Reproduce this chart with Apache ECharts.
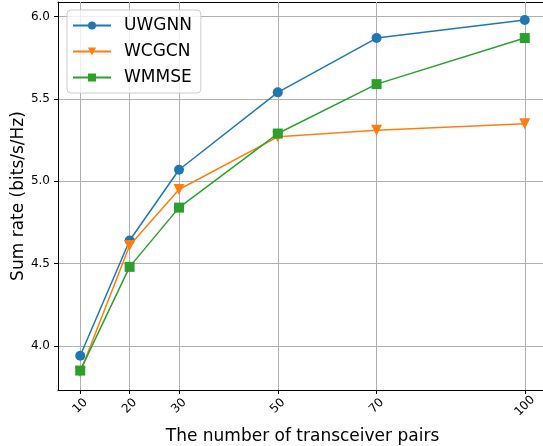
<!DOCTYPE html>
<html>
<head>
<meta charset="utf-8">
<script src="https://cdn.jsdelivr.net/npm/echarts@6/dist/echarts.min.js"></script>
<style>
  html, body { margin: 0; padding: 0; background: #fff; }
  #chart { width: 543px; height: 446px; }
</style>
</head>
<body>
<div id="chart"></div>
<script>
// Number of transceiver pairs on the x axis
const pairs = [10, 20, 30, 50, 70, 100];
// Sum rate (bits/s/Hz) of each method
const uwgnn = [3.94, 4.64, 5.07, 5.54, 5.87, 5.98];
const wcgcn = [3.84, 4.61, 4.95, 5.27, 5.31, 5.35];
const wmmse = [3.85, 4.48, 4.84, 5.29, 5.59, 5.87];
// Tick positions
const xTicks = [10, 20, 30, 50, 70, 100];
const yTicks = [4.0, 4.5, 5.0, 5.5, 6.0];

const FONT = 'DejaVu Sans';
const X_MIN = 5.5, X_MAX = 104.5;
const GRID_COLOR = '#b0b0b0';
const zip = (xs, ys) => xs.map((x, i) => [x, ys[i]]);

function lineSeries(name, values, color, symbol, size, rotate) {
  return {
    name: name,
    type: 'line',
    z: 3,
    data: zip(pairs, values),
    symbol: symbol,
    symbolSize: size,
    symbolRotate: rotate || 0,
    showSymbol: true,
    lineStyle: { color: color, width: 1.5 },
    itemStyle: { color: color, borderWidth: 0 },
    emphasis: { disabled: true },
    animation: false
  };
}

// vertical grid lines at the x ticks, kept beneath the data lines
const xGridSeries = {
  name: 'xgrid',
  type: 'line',
  z: 1,
  data: [],
  silent: true,
  markLine: {
    silent: true,
    z: 1,
    symbol: ['none', 'none'],
    label: { show: false },
    emphasis: { disabled: true },
    animation: false,
    lineStyle: { color: GRID_COLOR, width: 1, type: 'solid' },
    data: xTicks.map(v => ({ xAxis: v }))
  }
};

const chart = echarts.init(document.getElementById('chart'), null, { renderer: 'canvas' });
chart.setOption({
  backgroundColor: '#ffffff',
  animation: false,
  grid: {
    left: 58, top: 2, width: 489, height: 388,
    show: false, containLabel: false, outerBoundsMode: 'none'
  },
  legend: {
    left: 67, top: 10,
    orient: 'vertical',
    itemWidth: 38, itemHeight: 10,
    itemGap: 9,
    padding: [7, 9, 7, 5],
    backgroundColor: 'rgba(255,255,255,0.8)',
    borderColor: '#cccccc', borderWidth: 1, borderRadius: 4,
    textStyle: { fontFamily: FONT, fontSize: 17, color: '#000', padding: [0, 0, 0, 8] },
    data: ['UWGNN', 'WCGCN', 'WMMSE']
  },
  xAxis: [{
    type: 'value',
    min: X_MIN, max: X_MAX,
    name: 'The number of transceiver pairs',
    nameLocation: 'middle',
    nameGap: 38,
    nameTextStyle: { fontFamily: FONT, fontSize: 17, color: '#000' },
    axisLine: { onZero: false, lineStyle: { color: '#000', width: 1 } },
    axisTick: { show: true, length: 4, customValues: xTicks, lineStyle: { color: '#000' } },
    axisLabel: {
      customValues: xTicks, rotate: 45, fontFamily: FONT, fontSize: 12, color: '#000',
      align: 'center', verticalAlign: 'middle', margin: 16
    },
    splitLine: { show: false }
  }, {
    // top frame line
    type: 'value',
    position: 'top',
    min: X_MIN, max: X_MAX,
    axisLine: { show: true, onZero: false, lineStyle: { color: '#000', width: 1 } },
    axisTick: { show: false },
    axisLabel: { show: false },
    splitLine: { show: false }
  }],
  yAxis: {
    type: 'value',
    min: 3.732, max: 6.089,
    name: 'Sum rate (bits/s/Hz)',
    nameLocation: 'middle',
    nameGap: 31,
    nameMoveOverlap: false,
    nameTextStyle: { fontFamily: FONT, fontSize: 17, color: '#000' },
    axisLine: { show: true, onZero: false, lineStyle: { color: '#000', width: 1 } },
    axisTick: { show: true, length: 4, customValues: yTicks, lineStyle: { color: '#000' } },
    axisLabel: {
      customValues: yTicks, fontFamily: FONT, fontSize: 12, color: '#000', margin: 8,
      formatter: v => v.toFixed(1)
    },
    splitLine: { show: true, lineStyle: { color: GRID_COLOR, width: 1 } }
  },
  series: [
    xGridSeries,
    lineSeries('UWGNN', uwgnn, '#1f77b4', 'circle', 10),
    lineSeries('WCGCN', wcgcn, '#ff7f0e', 'triangle', 11, 180),
    lineSeries('WMMSE', wmmse, '#2ca02c', 'rect', 10)
  ]
});
</script>
</body>
</html>
